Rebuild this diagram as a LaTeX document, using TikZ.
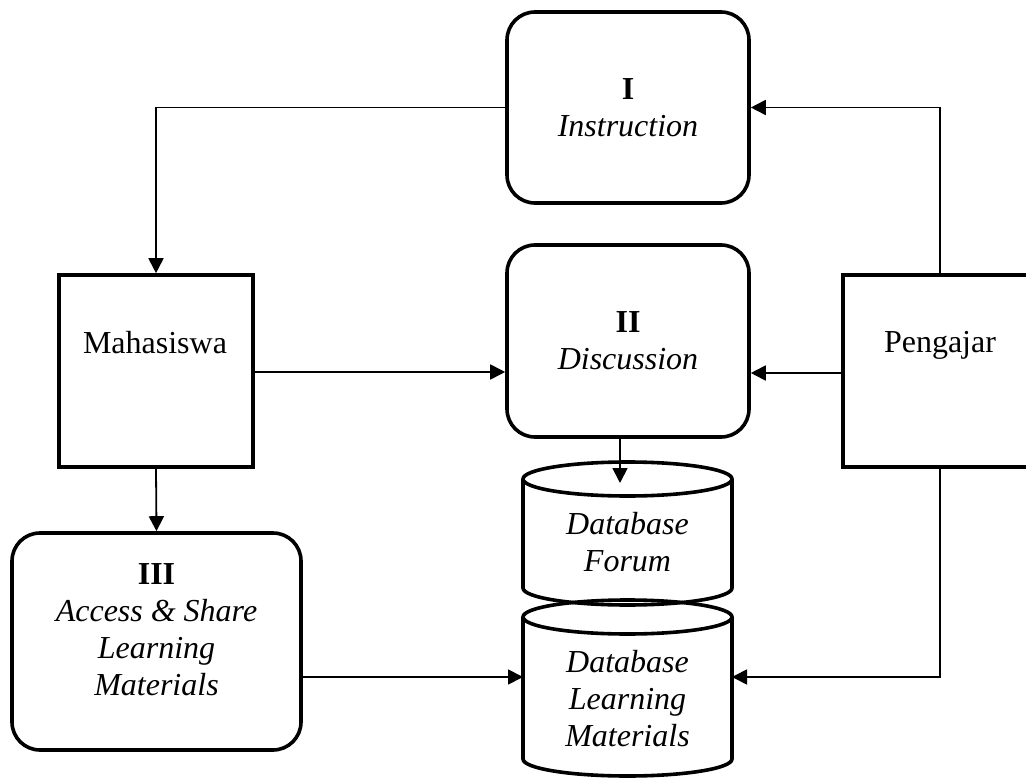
\documentclass[tikz,border=0pt]{standalone}
\usepackage{fontspec}
\setmainfont{Liberation Serif}
\usetikzlibrary{arrows.meta,calc}
\tikzset{
  stepbox/.style={draw, line width=3.6pt, rounded corners=28pt, inner sep=0pt, align=center,
                  font=\fontsize{32}{37}\selectfont},
  actor/.style={draw, line width=3.6pt, inner sep=0pt},
  lbl/.style={inner sep=0pt, align=center, font=\fontsize{32}{37}\selectfont},
  conn/.style={line width=1.8pt, -{Triangle[length=15pt,width=15pt]}},
  cyl/.style={line width=3.6pt},
}
\begin{document}
\begin{tikzpicture}[x=1pt,y=-1pt]
\useasboundingbox (0,0) rectangle (1026,778);
\clip (0,0) rectangle (1026,778);

% boxes
\node[stepbox, minimum width=242pt, minimum height=191pt] (instr) at (628,107.5)
  {\textbf{I}\\\textit{Instruction}};
\node[stepbox, minimum width=242pt, minimum height=192pt] (disc) at (628,341)
  {\textbf{II}\\\textit{Discussion}};
\node[actor, minimum width=194pt, minimum height=192pt] (maha) at (156,371) {};
\node[lbl] (mahat) at (155,343) {Mahasiswa};
\node[actor, minimum width=197pt, minimum height=192pt] (peng) at (941.5,371) {};
\node[lbl] (pengt) at (940,345) {Pengajar};
\node[stepbox, minimum width=289pt, minimum height=217pt] (iii) at (156.5,641.5) {};
\node[lbl] (iiit) at (156.5,630) {\textbf{III}\\\textit{Access \& Share}\\\textit{Learning}\\\textit{Materials}};

% cylinder: Database Forum
\draw[cyl] (627.5,479) ellipse [x radius=104.5, y radius=17];
\draw[cyl] (523,479) -- (523,588) arc[start angle=180, end angle=0, x radius=104.5, y radius=17] -- (732,479);
\node[lbl] (dbf) at (627.5,542) {\textit{Database}\\\textit{Forum}};

% cylinder: Database Learning Materials
\draw[cyl] (627.5,617) ellipse [x radius=104.5, y radius=17];
\draw[cyl] (523,617) -- (523,759) arc[start angle=180, end angle=0, x radius=104.5, y radius=17] -- (732,617);
\node[lbl] (dblm) at (627.5,699) {\textit{Database}\\\textit{Learning}\\\textit{Materials}};

\coordinate (dbfin) at (620,483);
\coordinate (dblmL) at (523,677);
\coordinate (dblmR) at (732,677);

% connectors
\draw[conn] (instr.west) -| (maha.north);
\draw[conn] (peng.north -| 940,0) |- (instr.east);
\draw[conn] ($(maha.east)+(0,1)$) -- ($(maha.east -| disc.west)+(0,1)$);
\draw[conn] ($(peng.west)+(0,2)$) -- ($(peng.west -| disc.east)+(0,2)$);
\draw[conn] (maha.south) -- (iii.north);
\draw[conn] (disc.south -| dbfin) -- (dbfin);
\draw[conn] (iii.east |- dblmL) -- (dblmL);
\draw[conn] (peng.south -| 940,0) |- (dblmR);
\end{tikzpicture}
\end{document}
